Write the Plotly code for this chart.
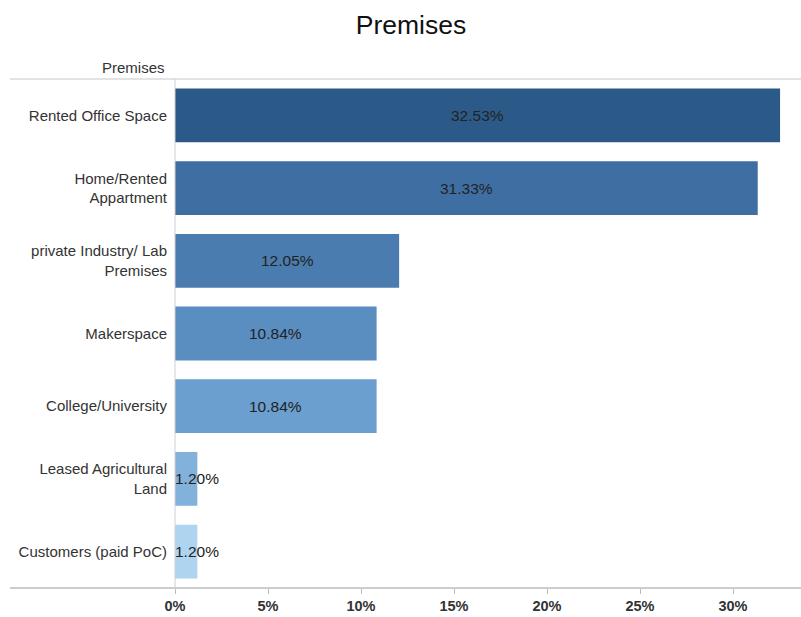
import plotly.graph_objects as go

categories = [
    "Rented Office Space",
    "Home/Rented<br>Appartment",
    "private Industry/ Lab<br>Premises",
    "Makerspace",
    "College/University",
    "Leased Agricultural<br>Land",
    "Customers (paid PoC)",
]
shares = [32.53, 31.33, 12.05, 10.84, 10.84, 1.20, 1.20]
bar_colors = ["#2b5a88", "#3f6fa2", "#4a7cb0", "#5a8dc0", "#6b9fcf", "#82b1dc", "#aed4f0"]
tick_vals = [0, 5, 10, 15, 20, 25, 30]
tick_text = ["0%", "5%", "10%", "15%", "20%", "25%", "30%"]

FONT = "Liberation Sans, Arial, sans-serif"

fig = go.Figure(
    go.Bar(
        x=shares,
        y=categories,
        orientation="h",
        marker=dict(color=bar_colors, line=dict(width=0)),
        width=0.74,
        hoverinfo="skip",
    )
)

# value labels: centred in wide bars, starting at the bar base for narrow ones
for cat, v in zip(categories, shares):
    wide = v > 5
    fig.add_annotation(
        x=v / 2 if wide else 0,
        y=cat,
        xref="x",
        yref="y",
        text=f"{v:.2f}%",
        showarrow=False,
        xanchor="center" if wide else "left",
        xshift=0 if wide else -2,
        font=dict(family=FONT, size=15.5, color="#222222"),
    )

plot_left = 175
plot_w = 801 - plot_left
ext = (10 - plot_left) / plot_w

# horizontal rules above and below the rows, extending under the labels
for yv, col in [(1, "#c8c8c8"), (0, "#9a9a9a")]:
    fig.add_shape(
        type="line", xref="paper", yref="paper",
        x0=ext, x1=1, y0=yv, y1=yv,
        line=dict(color=col, width=1.2),
    )
# vertical divider between labels and bars
fig.add_shape(
    type="line", xref="paper", yref="paper",
    x0=0, x1=0, y0=0, y1=1,
    line=dict(color="#d0d0d0", width=1),
)

fig.add_annotation(
    x=-8 / plot_w, y=1, xref="paper", yref="paper",
    text="Premises", showarrow=False,
    xanchor="right", yanchor="bottom", yshift=1,
    font=dict(family=FONT, size=15, color="#333333"),
)

fig.update_layout(
    width=801,
    height=617,
    margin=dict(l=plot_left, r=0, t=79, b=29),
    paper_bgcolor="white",
    plot_bgcolor="white",
    showlegend=False,
    title=dict(
        text="Premises",
        x=411 / 801,
        xanchor="center",
        y=1 - 25 / 617,
        yanchor="middle",
        font=dict(family=FONT, size=26.5, color="#111111"),
    ),
    xaxis=dict(
        range=[0, 626 / 18.6],
        tickvals=tick_vals,
        ticktext=tick_text,
        ticks="outside",
        ticklen=5,
        tickcolor="#bbbbbb",
        showgrid=False,
        zeroline=False,
        showline=False,
        automargin=False,
        tickfont=dict(family=FONT, size=14.5, color="#333333", weight="bold"),
    ),
    yaxis=dict(
        autorange="reversed",
        showgrid=False,
        zeroline=False,
        showline=False,
        ticks="",
        automargin=False,
        ticklabelstandoff=7,
        tickfont=dict(family=FONT, size=15, color="#333333"),
    ),
)

fig.write_html("out.html")
